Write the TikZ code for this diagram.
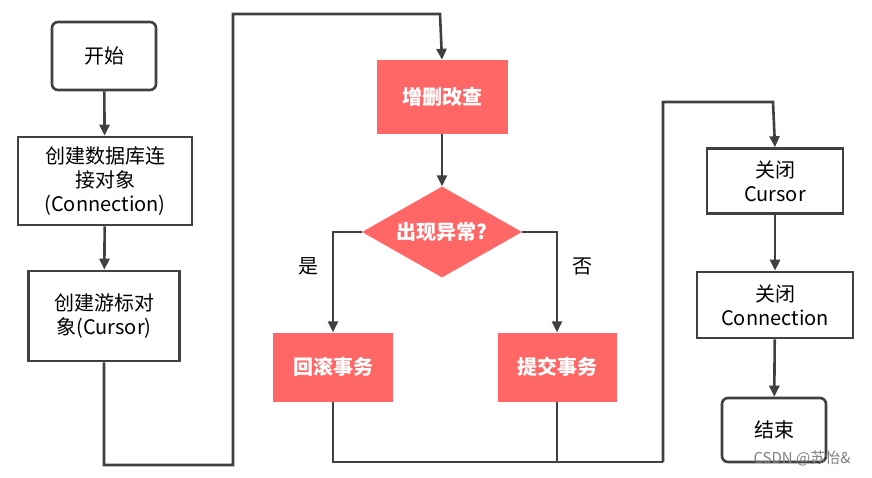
\documentclass[tikz,border=0pt]{standalone}
\usepackage{fontspec}
\setmainfont{Noto Sans CJK SC}
\usetikzlibrary{shapes.geometric,arrows.meta}
\definecolor{ln}{HTML}{404040}
\definecolor{rd}{HTML}{FF6666}
\begin{document}
\begin{tikzpicture}[x=1pt,y=-1pt,
  every node/.style={font=\fontsize{20}{24}\selectfont, align=center, inner sep=0pt},
  box/.style={draw=ln, line width=2.6pt, fill=white},
  rbox/.style={box, rounded corners=6pt},
  red/.style={fill=rd, text=white, font=\fontsize{20}{24}\selectfont\bfseries},
  ar/.style={draw=ln, line width=2.6pt, -{Triangle[length=11pt,width=10pt]}},
  ln/.style={draw=ln, line width=2.2pt}]
\useasboundingbox (0,0) rectangle (872,477);
\node[rbox, minimum width=104pt, minimum height=68pt] (start) at (104,56) {开始};
\node[box, minimum width=174pt, minimum height=88pt] (conn) at (105,181) {创建数据库连\\接对象\\(Connection)};
\node[box, minimum width=151pt, minimum height=90pt] (cur) at (104,316) {创建游标对\\象(Cursor)};
\node[red, minimum width=131pt, minimum height=74pt] (crud) at (442,97) {增删改查};
\node[red, diamond, aspect=1.76, minimum width=160pt, minimum height=91pt] (dia) at (442,232) {出现异常?};
\node[red, minimum width=120pt, minimum height=69pt] (rb) at (333,367) {回滚事务};
\node[red, minimum width=119pt, minimum height=69pt] (cm) at (557,367) {提交事务};
\node[box, minimum width=136pt, minimum height=65pt] (cc) at (775,181) {关闭\\Cursor};
\node[box, minimum width=156pt, minimum height=66pt] (cn) at (775,305) {关闭\\Connection};
\node[rbox, minimum width=104pt, minimum height=64pt] (end) at (774,430) {结束};
\node at (308,266) {是};
\node at (582,266) {否};
\node[text=gray, font=\fontsize{15}{17}\selectfont] (wm) at (802,458) {CSDN @苏怡\&};
\coordinate (j) at (663,462);
\draw[ar] (start) -- (conn);
\draw[ar] (conn) -- (cur);
\draw[ar] (cur.south) |- (233,465) |- (440,14) -- (crud.north);
\draw[ar] (crud) -- (dia);
\draw[ar] (dia.west) -| (rb.north);
\draw[ar] (dia.east) -| (cm.north);
\draw[ln] (rb.south) |- (j);
\draw[ln] (cm.south) -- (557,462);
\draw[ar] (j) |- (773,102) -- (cc.north);
\draw[ar] (cc) -- (cn);
\draw[ar] (cn) -- (end);
\end{tikzpicture}
\end{document}
